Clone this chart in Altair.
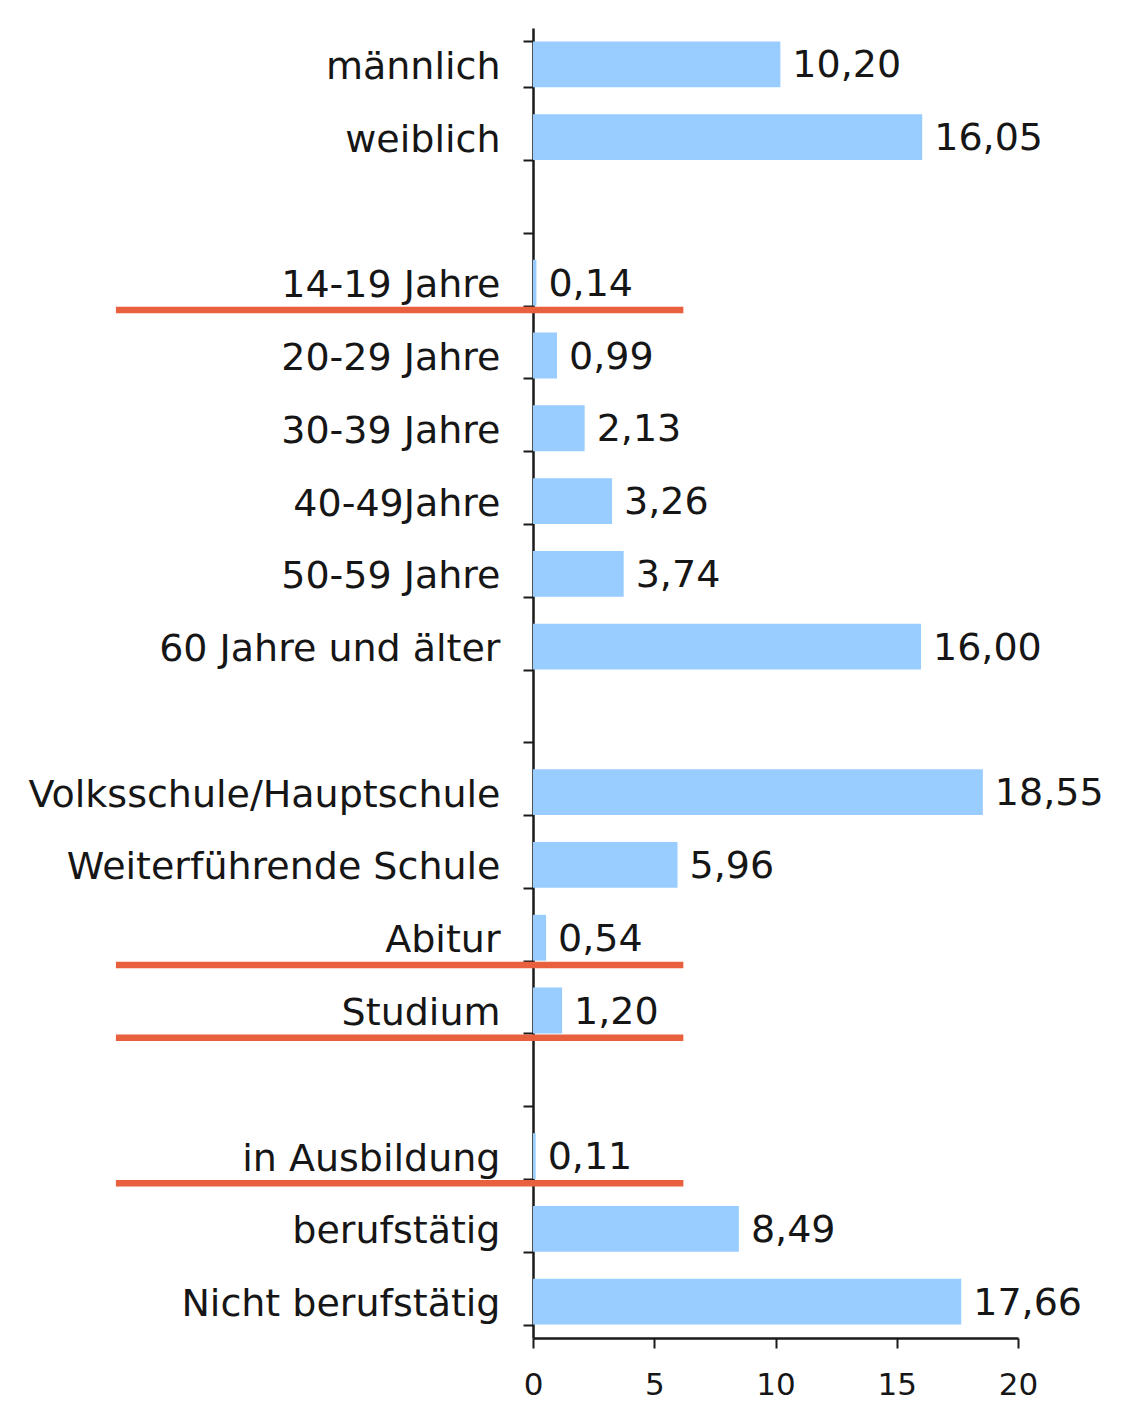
import altair as alt
import pandas as pd

# Row order (blank entries are the empty spacer rows of the original chart)
categories = [
    "männlich", "weiblich", " ",
    "14-19 Jahre", "20-29 Jahre", "30-39 Jahre", "40-49Jahre", "50-59 Jahre", "60 Jahre und älter", "  ",
    "Volksschule/Hauptschule", "Weiterführende Schule", "Abitur", "Studium", "   ",
    "in Ausbildung", "berufstätig", "Nicht berufstätig",
]

bar_categories = [
    "männlich", "weiblich",
    "14-19 Jahre", "20-29 Jahre", "30-39 Jahre", "40-49Jahre", "50-59 Jahre", "60 Jahre und älter",
    "Volksschule/Hauptschule", "Weiterführende Schule", "Abitur", "Studium",
    "in Ausbildung", "berufstätig", "Nicht berufstätig",
]
bar_values = [10.20, 16.05, 0.14, 0.99, 2.13, 3.26, 3.74, 16.00, 18.55, 5.96, 0.54, 1.20, 0.11, 8.49, 17.66]

# Highlighted (underlined) rows and the extent of the red underline in axis units
underlined = ["14-19 Jahre", "Abitur", "Studium", "in Ausbildung"]
underline_start = -17.2
underline_end = 6.2

x_ticks = [0, 5, 10, 15, 20]

bars = pd.DataFrame({
    "cat": bar_categories,
    "value": bar_values,
    "label": [f"{v:.2f}".replace(".", ",") for v in bar_values],
})
lines = pd.DataFrame({
    "cat": underlined,
    "x0": [underline_start] * len(underlined),
    "x1": [underline_end] * len(underlined),
})

FONT = "DejaVu Sans"
TEXT = "#161616"

y_enc = alt.Y(
    "cat:N",
    sort=categories,
    scale=alt.Scale(domain=categories, paddingInner=0.37, paddingOuter=0.185),
    axis=alt.Axis(
        title=None, tickBand="extent", tickSize=10, tickWidth=2, tickColor="#1a1a1a",
        domainColor="#1a1a1a", domainWidth=2.5, labelFont=FONT, labelFontSize=38,
        labelColor=TEXT, labelPadding=23, labelLimit=600, labelOffset=3,
    ),
)
x_scale = alt.Scale(domain=[0, 20], nice=False, zero=True)

bar_layer = alt.Chart(bars).mark_bar(color="#99CCFF").encode(
    x=alt.X(
        "value:Q", scale=x_scale,
        axis=alt.Axis(
            title=None, values=x_ticks, grid=False, tickSize=10, tickWidth=2, tickColor="#1a1a1a",
            domainColor="#1a1a1a", domainWidth=2.5, labelFont=FONT, labelFontSize=31,
            labelColor=TEXT, labelPadding=22, labelFlush=False,
        ),
    ),
    y=y_enc,
)

text_layer = alt.Chart(bars).mark_text(
    align="left", baseline="middle", dx=12, dy=2, font=FONT, fontSize=38, color=TEXT
).encode(
    x=alt.X("value:Q", scale=x_scale),
    y=alt.Y("cat:N", sort=categories),
    text="label:N",
)

base = alt.layer(bar_layer, text_layer)

rule_layer = alt.Chart(lines).mark_rule(color="#E8603E", strokeWidth=6.5, clip=False).encode(
    x=alt.X("x0:Q", scale=x_scale),
    x2="x1:Q",
    y=alt.Y(
        "cat:N", sort=categories, bandPosition=0.875,
        scale=alt.Scale(domain=categories, paddingInner=0, paddingOuter=0),
        axis=None,
    ),
)

chart = alt.layer(base, rule_layer).resolve_scale(y="independent").properties(
    width=485,
    height=1310,
    background="white",
    autosize=alt.AutoSizeParams(type="none"),
    padding={"left": 525, "top": 20, "right": 105, "bottom": 66},
).configure_view(stroke=None)

chart.save("out.html", embed_options={"renderer": "svg", "actions": False})
